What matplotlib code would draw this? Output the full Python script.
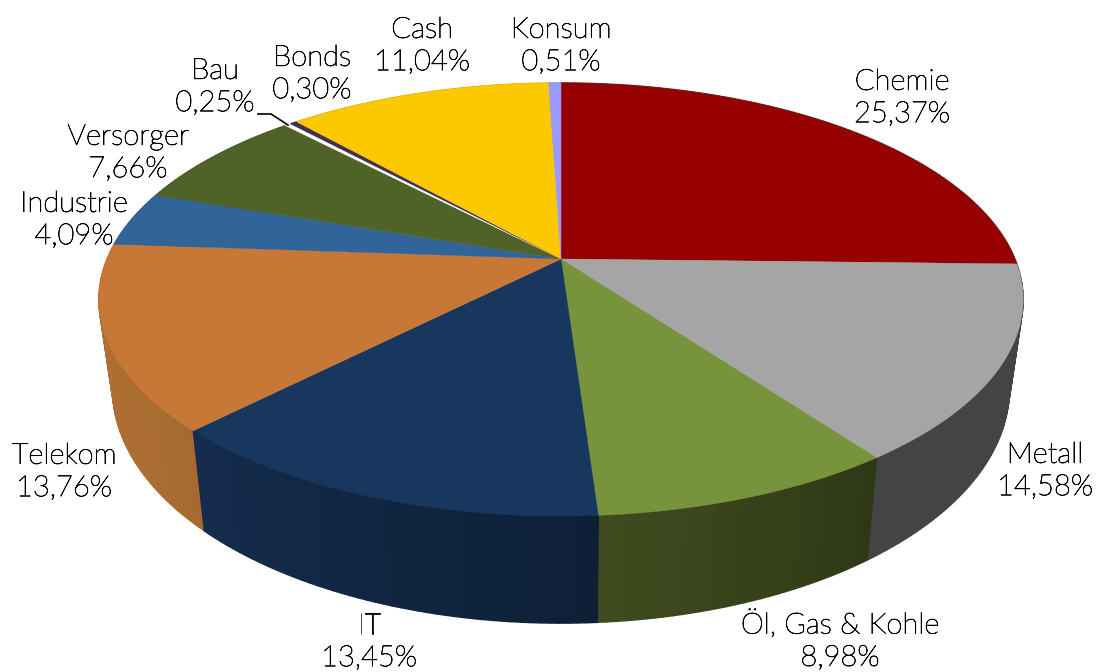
import numpy as np
import matplotlib
matplotlib.use("Agg")
import matplotlib.pyplot as plt
import matplotlib.patheffects as pe
from matplotlib.colors import to_rgb
from matplotlib.patches import Polygon

# ── Data ──────────────────────────────────────────────────────────────────────
sectors = ["Chemie", "Metall", "Öl, Gas & Kohle", "IT", "Telekom", "Industrie",
           "Versorger", "Bau", "Bonds", "Cash", "Konsum"]
shares = [25.37, 14.58, 8.98, 13.45, 13.76, 4.09, 7.66, 0.25, 0.30, 11.04, 0.51]

# ── Style ─────────────────────────────────────────────────────────────────────
top_colors = ["#960000", "#A5A5A5", "#77933C", "#17375E", "#C77836", "#31659A",
              "#4F6228", "#FFFFFF", "#403152", "#FCC900", "#9999FF"]
# side wall colour at the start and the end of each slice (clockwise)
wall_start = ["#444444", "#444444", "#2F3815", "#0D2036", "#A66A30", "#2A5682",
              "#434F22", "#DDDDDD", "#362A46", "#D6AB00", "#8282D9"]
wall_end = ["#444444", "#444444", "#404C1F", "#152C4E", "#B87434", "#2A5682",
            "#434F22", "#DDDDDD", "#362A46", "#D6AB00", "#8282D9"]
label_xy = [(902, 98), (1045, 471), (840, 640), (369, 642), (64, 472), (74, 220),
            (128, 153), (215, 87), (312, 74), (422, 46), (561, 46)]

# projection of the pie disc, in pixels
CX, CY = 561.0, 259.0
RX, RY, PERSP = 454.0, 209.0, 0.187
BASE_SX, BASE_SY, BASE_CY = 0.97, 1.08, 345.5


def top_xy(th):
    w = 1.0 + PERSP * np.cos(th)
    return CX + RX * np.sin(th) / w, CY - RY * np.cos(th) / w


def base_xy(th):
    x, y = top_xy(th)
    return CX + BASE_SX * (x - CX), BASE_CY + BASE_SY * (y - CY)


fig = plt.figure(figsize=(10.99, 6.72), dpi=100)
ax = fig.add_axes([0, 0, 1, 1])
ax.set_xlim(0, 1099)
ax.set_ylim(672, 0)
ax.axis("off")

edges = np.radians(np.cumsum([0.0] + shares) / sum(shares) * 360.0)

# ── Side walls, far ones first ────────────────────────────────────────────────
quads = []
for i in range(len(shares)):
    n = max(int(np.degrees(edges[i + 1] - edges[i])), 1)
    ths = np.linspace(edges[i], edges[i + 1], n + 1)
    c0, c1 = np.array(to_rgb(wall_start[i])), np.array(to_rgb(wall_end[i]))
    for j in range(n):
        a, b = ths[j], ths[j + 1]
        tx, ty = top_xy(np.array([a, b]))
        bx, by = base_xy(np.array([b, a]))
        col = c0 + (c1 - c0) * (j + 0.5) / n
        quads.append((-np.cos(0.5 * (a + b)), np.column_stack([np.r_[tx, bx], np.r_[ty, by]]), col))

# edge in the fill colour, otherwise the strips show as seams
for _, pts, col in sorted(quads, key=lambda q: q[0]):
    ax.add_patch(Polygon(pts, closed=True, fc=col, ec=col, lw=1.0, zorder=1))

# ── Top face ──────────────────────────────────────────────────────────────────
for i, col in enumerate(top_colors):
    ths = np.linspace(edges[i], edges[i + 1], max(int(np.degrees(edges[i + 1] - edges[i])) * 2, 2) + 1)
    x, y = top_xy(ths)
    pts = np.column_stack([np.r_[CX, x], np.r_[CY, y]])
    ax.add_patch(Polygon(pts, closed=True, fc=col, ec=col, lw=0.3, zorder=2))

# ── Labels ────────────────────────────────────────────────────────────────────
for name, val, (lx, ly) in zip(sectors, shares, label_xy):
    txt = f"{name}\n{val:.2f}%".replace(".", ",")
    t = ax.text(lx, ly, txt, ha="center", va="center", fontsize=21, family="Lato",
                weight="light", color="black", linespacing=1.3, zorder=4)
    t.set_path_effects([pe.withStroke(linewidth=0.5, foreground="black")])

# leader line for Bau
ax.plot([258, 271, 288], [114, 114, 125], color="black", lw=1.2, zorder=3)

fig.savefig("out.png", dpi=100)
